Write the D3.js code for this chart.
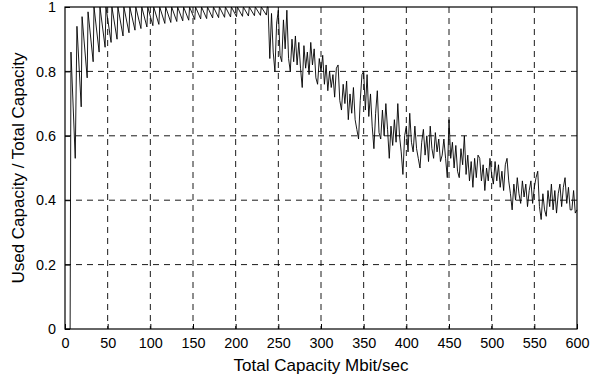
<!DOCTYPE html>
<html>
<head>
<meta charset="utf-8">
<script src="https://cdn.jsdelivr.net/npm/d3@7"></script>
<style>
html,body{margin:0;padding:0;background:#fff;}
svg{display:block;}
text{font-family:"Liberation Sans",Arial,sans-serif;fill:#000;}
</style>
</head>
<body>
<svg id="chart" width="613" height="376"></svg>
<script>
// ---- data ----
// sawtooth region: vertices (capacity, ratio)
const sawX = [0,6,7,12,14,19,20,26,27,33,34,40,41,47,48,54,55,61,62,68,69,75,76,82,83,89,90,96,97,103,104,110,111,117,118,124,125,131,132,138,139,145,146,152,153,159,160,166,167,173,174,180,181,187,188,194,195,201,202,208,209,215,216,222,223,229,230,236,237,238];
const sawY = [0,0,0.86,0.53,0.94,0.69,0.97,0.78,0.985,0.83,1,0.86,1,0.875,1,0.89,1,0.90,1,0.91,1,0.92,1,0.928,1,0.933,1,0.938,1,0.942,1,0.946,1,0.949,1,0.952,1,0.955,1,0.957,1,0.959,1,0.961,1,0.963,1,0.964,1,0.966,1,0.967,1,0.968,1,0.969,1,0.970,1,0.971,1,0.972,1,0.973,1,0.974,1,0.975,1,1];
// noisy region: capacity 240..600 step 2
const noiseStart = 240, noiseStep = 2;
const noiseY = [
0.84,0.98,0.86,0.80,0.95,0.99,0.85,0.83,0.96,0.87,
0.99,0.84,0.80,0.90,0.83,0.91,0.82,0.89,0.81,0.75,
0.88,0.81,0.86,0.79,0.89,0.82,0.87,0.78,0.76,0.84,
0.80,0.85,0.76,0.82,0.74,0.80,0.75,0.79,0.72,0.81,
0.82,0.71,0.68,0.76,0.70,0.77,0.65,0.73,0.67,0.75,
0.65,0.62,0.59,0.71,0.79,0.80,0.68,0.79,0.66,0.73,
0.63,0.56,0.67,0.74,0.61,0.59,0.68,0.60,0.70,0.62,
0.53,0.63,0.57,0.65,0.58,0.70,0.60,0.55,0.48,0.60,
0.63,0.55,0.67,0.58,0.55,0.63,0.56,0.53,0.50,0.58,
0.62,0.54,0.60,0.52,0.63,0.56,0.53,0.61,0.55,0.59,
0.52,0.54,0.59,0.53,0.47,0.65,0.53,0.58,0.50,0.57,
0.49,0.47,0.56,0.51,0.60,0.48,0.54,0.46,0.52,0.44,
0.53,0.47,0.54,0.53,0.46,0.51,0.43,0.50,0.46,0.53,
0.48,0.45,0.52,0.46,0.51,0.44,0.49,0.43,0.51,0.53,
0.46,0.42,0.37,0.45,0.40,0.47,0.42,0.39,0.46,0.41,
0.45,0.38,0.43,0.46,0.39,0.44,0.47,0.49,0.38,0.34,
0.42,0.37,0.35,0.43,0.38,0.45,0.37,0.43,0.36,0.42,
0.45,0.38,0.44,0.47,0.39,0.44,0.37,0.37,0.43,0.36,0.37
];
const xTicks = [0,50,100,150,200,250,300,350,400,450,500,550,600];
const yTicks = [0,0.2,0.4,0.6,0.8,1];
const yTickLabels = ["0","0.2","0.4","0.6","0.8","1"];
const xLabel = "Total Capacity Mbit/sec";
const yLabel = "Used Capacity / Total Capacity";

// ---- build points ----
const points = sawX.map((x,i)=>[x, sawY[i]]);
noiseY.forEach((v,i)=>points.push([noiseStart + i*noiseStep, v]));

// ---- layout ----
const L = 65, R = 577, T = 7, B = 329;
const svg = d3.select("#chart");
const x = d3.scaleLinear().domain([0,600]).range([L,R]);
const y = d3.scaleLinear().domain([0,1]).range([B,T]);

// grid
const grid = svg.append("g");
grid.selectAll("line.vg").data(xTicks.slice(1,-1)).enter().append("line")
  .attr("x1",d=>x(d)).attr("x2",d=>x(d)).attr("y1",T).attr("y2",B)
  .attr("stroke","#000").attr("stroke-width",0.9).attr("stroke-dasharray","6,5");
grid.selectAll("line.hg").data(yTicks.slice(1,-1)).enter().append("line")
  .attr("y1",d=>y(d)).attr("y2",d=>y(d)).attr("x1",L).attr("x2",R)
  .attr("stroke","#000").attr("stroke-width",0.9).attr("stroke-dasharray","6,5");

// data line
svg.append("path").datum(points)
  .attr("fill","none").attr("stroke","#000").attr("stroke-width",0.9)
  .attr("d", d3.line().x(d=>x(d[0])).y(d=>y(d[1])));

// axes
const xAxis = d3.axisBottom(x).tickValues(xTicks).tickSizeInner(-5).tickSizeOuter(0).tickPadding(9).tickFormat(d3.format("d"));
const gx = svg.append("g").attr("transform",`translate(0,${B})`).call(xAxis);
const yAxis = d3.axisLeft(y).tickValues(yTicks).tickSizeInner(-5).tickSizeOuter(0).tickPadding(9).tickFormat((d,i)=>yTickLabels[i]);
const gy = svg.append("g").attr("transform",`translate(${L},0)`).call(yAxis);
[gx,gy].forEach(g=>{
  g.select(".domain").remove();
  g.selectAll("text").style("font-size","14.4px").style("font-family","'Liberation Sans',Arial,sans-serif").attr("fill","#000");
  g.selectAll("line").attr("stroke","#000");
});

// box
svg.append("rect").attr("x",L).attr("y",T).attr("width",R-L).attr("height",B-T)
  .attr("fill","none").attr("stroke","#000").attr("stroke-width",1.2);

// labels
svg.append("text").attr("x",(L+R)/2).attr("y",371).attr("text-anchor","middle")
  .style("font-size","17px").text(xLabel);
svg.append("text").attr("transform",`translate(24,${(T+B)/2}) rotate(-90)`).attr("text-anchor","middle")
  .style("font-size","17px").text(yLabel);
</script>
</body>
</html>
